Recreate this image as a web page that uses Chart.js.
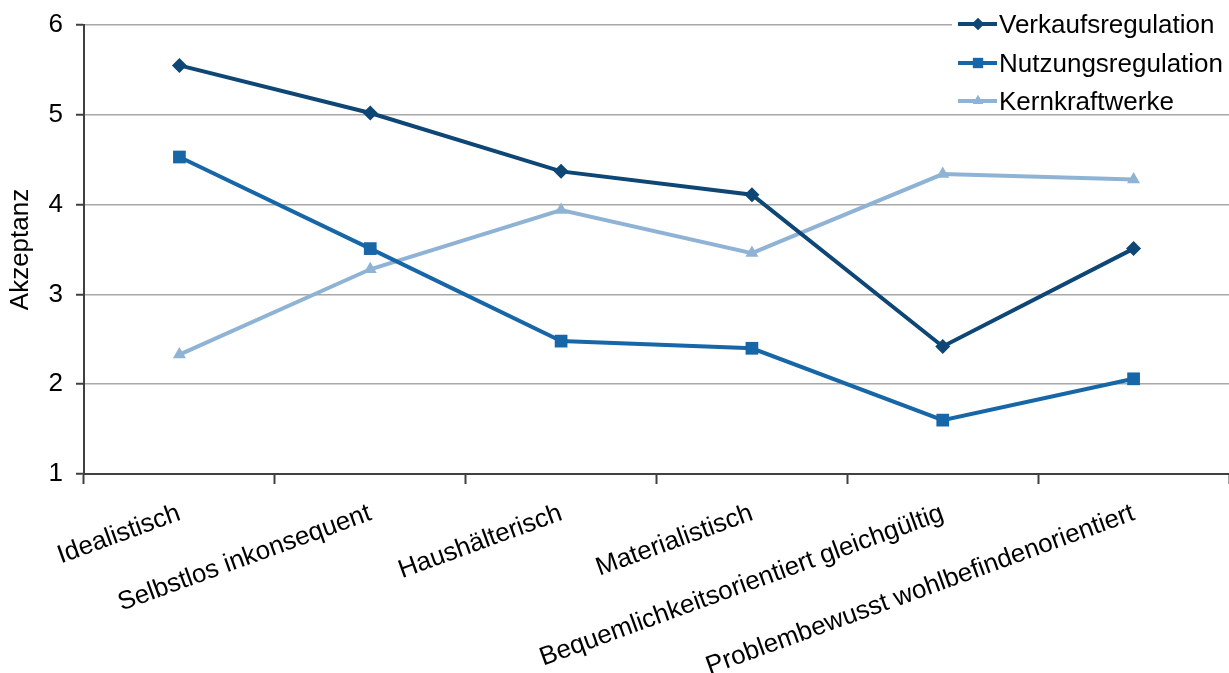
<!DOCTYPE html>
<html>
<head>
<meta charset="utf-8">
<script src="https://cdn.jsdelivr.net/npm/chart.js@4/dist/chart.umd.min.js"></script>
<style>
  html, body { margin: 0; padding: 0; background: #fff; }
  #wrap { width: 1229px; height: 673px; }
</style>
</head>
<body>
<div id="wrap"><canvas id="typChart" width="1229" height="673"></canvas></div>
<script>
// Kategorien (Konsumententypen)
var typen = ['Idealistisch', 'Selbstlos inkonsequent', 'Haushälterisch', 'Materialistisch',
    'Bequemlichkeitsorientiert gleichgültig', 'Problembewusst wohlbefindenorientiert'];

// Akzeptanzwerte je Maßnahme
var verkaufsregulation = [5.55, 5.02, 4.37, 4.11, 2.42, 3.51];
var nutzungsregulation = [4.53, 3.51, 2.48, 2.40, 1.60, 2.06];
var kernkraftwerke = [2.33, 3.28, 3.94, 3.46, 4.34, 4.28];

var yTicks = [1, 2, 3, 4, 5, 6];

var FONT = 'Arial, "Liberation Sans", sans-serif';
var farben = ['#0e4675', '#1766a8', '#8fb3d5'];
var symbole = ['rectRot', 'rect', 'triangle'];
var radien = [7.5, 9, 7.5];

// Legende oben rechts mit weißem Hintergrund
var legendePlugin = {
    id: 'legende',
    afterDraw: function(chart) {
        var ctx = chart.ctx;
        ctx.save();
        ctx.fillStyle = '#ffffff';
        ctx.fillRect(952, 0, chart.width - 952, 110);
        var zeilen = [24, 63, 101];
        chart.data.datasets.forEach(function(ds, i) {
            var y = zeilen[i];
            ctx.strokeStyle = ds.borderColor;
            ctx.lineWidth = 4;
            ctx.beginPath();
            ctx.moveTo(958, y);
            ctx.lineTo(997, y);
            ctx.stroke();
            ctx.fillStyle = ds.borderColor;
            Chart.helpers.drawPoint(ctx, {
                pointStyle: ds.pointStyle,
                radius: ds.pointRadius * 0.8,
                rotation: 0,
                borderWidth: 0
            }, 978, y);
            ctx.fill();
            ctx.fillStyle = '#000000';
            ctx.font = '26px ' + FONT;
            ctx.textAlign = 'left';
            ctx.textBaseline = 'middle';
            ctx.fillText(ds.label, 999, y + 2);
        });
        ctx.restore();
    }
};

var reihen = [
    ['Verkaufsregulation', verkaufsregulation],
    ['Nutzungsregulation', nutzungsregulation],
    ['Kernkraftwerke', kernkraftwerke]
];

var ctx = document.getElementById('typChart').getContext('2d');
new Chart(ctx, {
    type: 'line',
    data: {
        labels: typen,
        datasets: reihen.map(function(r, i) {
            return {
                label: r[0],
                data: r[1],
                borderColor: farben[i],
                backgroundColor: farben[i],
                borderWidth: 4,
                pointStyle: symbole[i],
                pointRadius: radien[i],
                pointBorderWidth: 0,
                tension: 0,
                fill: false
            };
        })
    },
    options: {
        responsive: false,
        animation: false,
        layout: {
            autoPadding: false,
            padding: { top: 25, right: 0, left: 0, bottom: 0 }
        },
        plugins: {
            legend: { display: false },
            tooltip: { enabled: false }
        },
        scales: {
            x: {
                offset: true,
                afterFit: function(s) {
                    s.height = 199;
                    s.paddingLeft = 0;
                    s.paddingRight = 0;
                },
                grid: {
                    offset: true,
                    drawOnChartArea: false,
                    tickLength: 10,
                    tickColor: '#404040',
                    tickWidth: 2
                },
                border: { color: '#404040', width: 2 },
                ticks: {
                    autoSkip: false,
                    minRotation: 20,
                    maxRotation: 20,
                    padding: 14,
                    color: '#000',
                    font: { family: FONT, size: 26 }
                }
            },
            y: {
                min: 1,
                max: 6,
                afterFit: function(s) {
                    s.width = 84;
                    s.paddingTop = 0;
                    s.paddingBottom = 0;
                },
                afterBuildTicks: function(s) {
                    s.ticks = yTicks.map(function(v) { return { value: v }; });
                },
                grid: {
                    color: '#a8a8a8',
                    lineWidth: 1.5,
                    tickLength: 8,
                    tickColor: '#404040',
                    tickWidth: 2
                },
                border: { color: '#404040', width: 2 },
                ticks: {
                    padding: 13,
                    color: '#000',
                    font: { family: FONT, size: 26 }
                },
                title: {
                    display: true,
                    text: 'Akzeptanz',
                    color: '#000',
                    padding: { top: 5, bottom: 0 },
                    font: { family: FONT, size: 26 }
                }
            }
        }
    },
    plugins: [legendePlugin]
});
</script>
</body>
</html>
